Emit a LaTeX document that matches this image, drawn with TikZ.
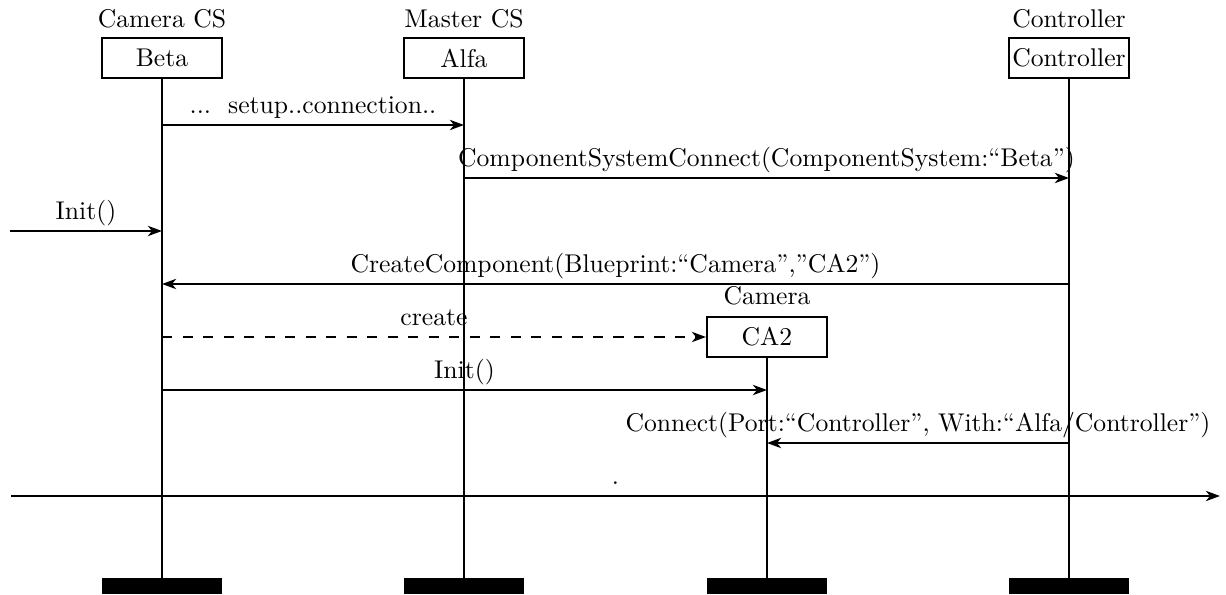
\documentclass[tikz,border=0pt]{standalone}
\usepackage{tikz}
\usetikzlibrary{arrows.meta}

\begin{document}
\begin{tikzpicture}[x=0.39pt,y=-0.39pt,
    inst/.style={draw,thick,minimum width=46.8pt,minimum height=15.6pt,inner sep=1pt},
    endbar/.style={fill=black,minimum width=46.8pt,minimum height=6.2pt,inner sep=0pt},
    msg/.style={-{Stealth[length=5.5pt,width=4pt,inset=1.6pt]},thick},
    life/.style={thick},
    lbl/.style={above,inner sep=1.5pt,text depth=2.5pt}]
  \useasboundingbox (0,0) rectangle (1226,595);

  \draw (162,28) node[anchor=base] (camcs) {Camera CS};
  \draw (464,28) node[anchor=base] (mastercs) {Master CS};
  \draw (1069,28) node[anchor=base] (ctrlname) {Controller};
  \draw (162,58) node[inst] (beta) {Beta};
  \draw (464,58) node[inst] (alfa) {Alfa};
  \draw (1069,58) node[inst] (ctrl) {Controller};
  \draw (767,305) node[anchor=base] (camname) {Camera};
  \draw (767,337) node[inst] (ca2) {CA2};

  \draw (162,586) node[endbar] (betaend) {};
  \draw (464,586) node[endbar] (alfaend) {};
  \draw (767,586) node[endbar] (ca2end) {};
  \draw (1069,586) node[endbar] (ctrlend) {};

    \path[life] (beta) edge (betaend);
    \path[life] (alfa) edge (alfaend);
    \path[life] (ca2) edge (ca2end);
    \path[life] (ctrl) edge (ctrlend);

  \coordinate (b1) at (162,125); \coordinate (a1) at (464,125);
  \coordinate (a2) at (464,178); \coordinate (c2) at (1069,178);
  \coordinate (in3) at (10,231); \coordinate (b3) at (162,231);
  \coordinate (c4) at (1069,284); \coordinate (b4) at (162,284);
  \coordinate (b5) at (162,337);
  \coordinate (b6) at (162,390); \coordinate (k6) at (767,390);
  \coordinate (c7) at (1069,443); \coordinate (k7) at (767,443);
  \coordinate (in8) at (11,496); \coordinate (out8) at (1220,496);

    \path[msg] (b1) edge node[lbl] {...\ \ setup..connection..} (a1);
    \path[msg] (a2) edge node[lbl] {ComponentSystemConnect(ComponentSystem:``Beta'')} (c2);
    \path[msg] (in3) edge node[lbl] {Init()} (b3);
    \path[msg] (c4) edge node[lbl] {CreateComponent(Blueprint:``Camera'',''CA2'')} (b4);
    \path[msg,dashed,dash pattern=on 4pt off 4pt] (b5) edge node[lbl] {create} (ca2);
    \path[msg] (b6) edge node[lbl] {Init()} (k6);
    \path[msg] (c7) edge node[lbl] {Connect(Port:``Controller'', With:``Alfa/Controller'')} (k7);
    \path[msg] (in8) edge node[lbl] {.} (out8);
\end{tikzpicture}
\end{document}
